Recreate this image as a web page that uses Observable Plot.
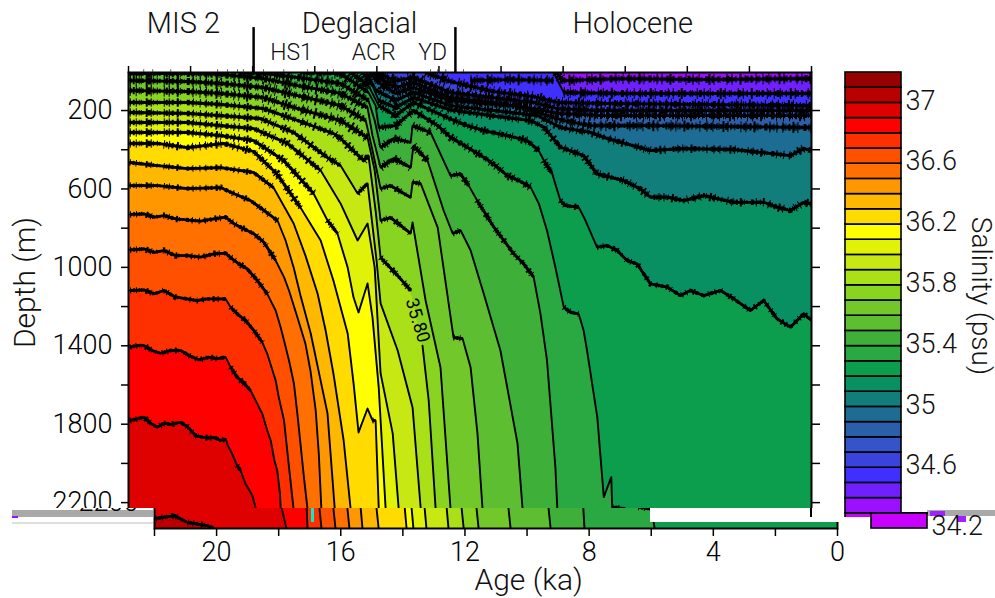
<!DOCTYPE html>
<html><head><meta charset="utf-8">
<script src="https://cdn.jsdelivr.net/npm/d3@7"></script>
<script src="https://cdn.jsdelivr.net/npm/@observablehq/plot@0.6"></script>
<style>
html,body{margin:0;background:#fff}
#fig{position:relative;width:995px;height:598px;overflow:hidden;font-family:Roboto,sans-serif;font-weight:300}
#fig svg{position:absolute;left:0;top:0;background:transparent;font-family:Roboto,sans-serif;font-weight:300}
.g{position:absolute}
</style></head><body><div id="fig"></div>
<script>
const age_344=[8.21,8.02,6.15,3.58,0], depth_344=[6,47,37,42,37];
const age_345=[8.31,7.98,6.15,3.58,0], depth_345=[6,108,113,113,113];
const age_346=[12.43,11.63,10.24,8.95,8.18,6.79,0], depth_346=[6,52,103,129,159,164,175];
const age_347=[14.04,13.40,12.82,11.63,8.95,8.18,6.79,0], depth_347=[6,47,32,108,159,190,200,200];
const age_348=[14.14,13.88,13.40,12.82,11.63,8.95,8.18,6.79,4.12,0], depth_348=[6,37,83,57,134,190,215,226,226,226];
const age_349=[14.20,13.94,13.40,12.82,11.63,9.47,8.73,7.98,7.12,5.18,2.51,0], depth_349=[6,57,113,83,149,175,215,251,277,277,282,287];
const age_350=[14.33,14.01,13.40,12.82,11.63,8.82,8.08,7.12,6.57,5.18,4.12,2.51,0.68,0.26,0], depth_350=[6,98,149,108,175,226,287,312,343,404,394,399,430,394,404];
const age_351=[14.46,14.14,13.94,13.40,12.82,11.63,10.34,9.05,8.62,8.09,7.34,6.91,6.48,6.05,5.51,5.19,4.65,4.11,3.47,2.50,1.54,1.11,0.68,0.25,0], depth_351=[6,73,149,185,134,197,226,251,285,387,430,523,540,557,600,642,642,659,634,668,668,693,710,668,676];
const age_352=[14.85,14.27,13.94,13.40,12.82,11.63,11.09,10.56,9.80,9.16,8.79,8.62,8.35,8.09,7.93,7.50,7.28,6.91,6.58,6.26,5.94,5.62,5.19,4.65,4.22,3.90,3.47,2.93,2.50,1.97,1.54,1.11,0.68,0.25,0], depth_352=[6,73,175,226,159,243,277,302,328,353,404,455,523,659,685,693,761,897,889,914,965,982,1084,1101,1144,1118,1144,1118,1161,1220,1169,1263,1305,1237,1271];
const age_353=[16.46,15.17,14.27,14.04,13.94,13.40,12.82,12.04,11.63,11.09,10.56,10.18,9.80,9.43,9.05,8.78,8.52,8.25,7.98,7.76,7.50,7.34,7.23,6.90,6.69,6.45,6.42,5.99,5.89], depth_353=[6,11,108,175,287,277,200,277,336,387,438,481,532,557,591,676,812,999,1203,1229,1237,1322,1424,1764,2172,2070,2223,2232,2332];
const age_354=[18.39,17.65,16.55,15.17,14.27,14.07,13.88,13.46,12.91,12.85,12.27,11.63,11.31,11.04,10.77,10.23,9.59,9.27,8.95,8.73,8.52,8.25,8.19,8.15], depth_354=[6,11,32,62,149,251,389,343,363,277,312,532,523,583,659,795,931,982,1050,1237,1475,2019,2223,2332];
const age_355=[21.96,20.10,19.03,17.65,16.55,15.17,14.30,14.14,13.88,13.46,12.91,12.82,12.37,11.85,11.56,11.30,10.98,10.56,10.02,9.47,9.31,9.24], depth_355=[11,11,16,37,73,113,185,328,491,445,491,379,455,710,827,812,914,1133,1424,1898,2225,2332];
const age_356=[21.96,20.10,19.03,17.65,16.55,15.17,14.36,14.14,13.88,13.56,12.91,12.85,12.59,12.04,11.53,11.24,10.98,10.76,10.60,10.53], depth_356=[47,52,62,83,124,175,251,404,598,583,644,567,572,797,1358,1363,1511,1847,2225,2332];
const age_357=[21.96,20.10,19.03,17.65,16.55,15.17,14.30,14.07,13.88,13.56,12.91,12.85,12.43,11.95,11.63,11.56], depth_357=[98,103,113,134,190,251,338,506,761,746,827,771,1169,1511,2225,2332];
const age_358=[21.96,20.10,19.03,17.65,16.55,15.40,15.17,14.43,14.27,14.04,13.88,13.33,12.91,12.72,12.53,12.33,12.11,12.04], depth_358=[159,159,169,190,251,317,343,455,430,710,950,1042,1118,NaN,1399,1679,2225,2332];
const age_359=[21.96,20.10,19.03,17.75,16.68,15.59,15.17,14.62,14.30,14.01,13.88,13.33,12.85,12.59,12.53], depth_359=[210,215,226,241,312,440,481,623,572,965,1184,1424,1715,2225,2332];
const age_360=[21.96,20.10,19.03,17.97,16.88,15.81,15.17,14.62,14.30,14.07,13.94,13.88,13.49,13.30,13.24], depth_360=[261,261,277,292,368,506,674,863,776,1001,1373,1541,1847,2225,2332];
const age_361=[21.96,20.10,19.03,17.97,17.00,16.04,15.59,15.27,14.94,14.75,14.59,14.30,14.14,13.94,13.72,13.66], depth_361=[312,312,328,353,455,623,761,827,1001,1154,1230,1082,1256,1613,2225,2332];
const age_362=[21.96,21.06,20.10,18.94,17.97,17.23,16.46,15.81,15.40,14.94,14.75,14.59,14.30,14.14,14.04,13.94,13.88], depth_362=[368,368,389,368,409,521,695,863,1067,1337,1592,1842,1720,1781,1781,2225,2332];
const age_363=[21.96,21.06,20.10,19.03,17.97,17.33,16.68,16.30,15.91,15.65,15.40,15.07,14.85,14.78], depth_363=[465,481,496,491,516,593,776,940,1133,1322,1541,1883,2225,2332];
const age_364=[21.96,21.06,20.10,19.03,18.62,18.07,17.20,16.94,16.68,16.46,16.13,15.59,15.36,15.30], depth_364=[583,583,598,593,623,659,761,863,1001,1143,1337,1745,2225,2332];
const age_365=[21.95,21.50,21.18,20.86,20.48,20.11,19.68,19.25,18.87,18.60,18.39,17.96,17.64,17.26,16.99,16.83,16.56,16.30,16.14,15.97,15.87,15.79,15.72], depth_365=[730,727,744,736,753,758,764,753,744,778,795,829,872,965,1050,1118,1254,1390,1526,1730,1951,2223,2332];
const age_366=[21.95,21.50,21.18,20.86,20.48,20.11,19.68,19.25,18.87,18.66,18.44,18.18,17.85,17.53,17.26,17.10,16.99,16.83,16.67,16.56,16.46,16.35,16.24,16.17], depth_366=[911,906,923,914,940,940,948,931,928,957,982,1007,1067,1135,1220,1305,1373,1475,1594,1747,1900,2070,2223,2332];
const age_367=[21.95,21.50,21.18,20.86,20.48,20.11,19.79,19.46,19.14,18.87,18.71,18.50,18.23,17.96,17.69,17.53,17.26,17.16,16.99,16.83,16.69,16.62], depth_367=[1118,1115,1135,1118,1152,1161,1169,1161,1161,1161,1203,1237,1271,1322,1382,1441,1577,1662,1781,2019,2223,2332];
const age_368=[21.95,21.72,21.50,21.24,20.97,20.64,20.32,20.05,19.73,19.41,19.14,18.87,18.71,18.50,18.28,18.07,17.85,17.69,17.53,17.42,17.30,17.21,17.12,17.10,17.07], depth_368=[1407,1399,1399,1424,1438,1424,1424,1450,1472,1458,1466,1458,1509,1560,1591,1628,1696,1747,1832,1883,1985,2036,2155,2223,2332];
const age_369=[21.95,21.72,21.50,21.29,21.07,20.86,20.64,20.32,20.11,19.84,19.62,19.46,19.20,19.03,18.87,18.80,18.66,18.50,18.39,18.23,18.01,17.91,17.75], depth_369=[1781,1773,1764,1795,1815,1795,1801,1790,1812,1858,1866,1869,1869,1883,1875,1909,1951,2011,2036,2104,2164,2223,2332];
const age_370=[21.96,21.38,20.93,20.29,20.10], depth_370=[2281,2266,2301,2317,2332];
// a dark wiggle seen across the blue wedge, not a coloured boundary
const age_wedge=[10.98,9.69,8.31], depth_wedge=[47,42,47];

const contourLevels=[34.4,34.5,34.6,34.7,34.8,34.9,35.0,35.1,35.2,35.3,35.4,35.5,35.6,35.7,35.8,35.9,36.0,36.1,36.2,36.3,36.4,36.5,36.6,36.7,36.8,36.9,37.0];
const contourAges=[age_344,age_345,age_346,age_347,age_348,age_349,age_350,age_351,age_352,age_353,age_354,age_355,age_356,age_357,age_358,age_359,age_360,age_361,age_362,age_363,age_364,age_365,age_366,age_367,age_368,age_369,age_370];
const contourDepths=[depth_344,depth_345,depth_346,depth_347,depth_348,depth_349,depth_350,depth_351,depth_352,depth_353,depth_354,depth_355,depth_356,depth_357,depth_358,depth_359,depth_360,depth_361,depth_362,depth_363,depth_364,depth_365,depth_366,depth_367,depth_368,depth_369,depth_370];

const barLows=d3.range(30).map(i=>+(34.2+i*0.1).toFixed(1));
const barColors=["#c800ff","#9a10ff","#7020ff","#4030ff","#3a44dc","#3454c8","#2c5faa","#1c6c94","#127e7c","#089062","#0c9e4c","#2aa842","#3eb03a","#5cbe30","#72c82a","#88d420","#aae018","#c8e814","#e0f208","#ffff00","#ffdb00","#ffb800","#ff9800","#ff7000","#ff5000","#ff3000","#ff0000","#df0000","#b80000","#960000"];
const barTicksUpper=[37,36.6,36.2,35.8,35.4,35,34.6];
const barTicksLower=[34.2];

const depthLabelled=[200,600,1000,1400,1800,2200];
const depthMinor=[400,800,1200,1600,2000];
const depthRight=[200,400,600,800,1000,1200,1400,1600,1800,2000,2200];
const ageLabelled=[20,16,12,8,4,0];
const ageMinor=[22,18,14,10,6,2];
const ageTop=[22,20,18,16,14,12,10,8,6,4,2,0];
const periodBounds=[17.97,11.47];
const topSpikes=[21.51,21.22,20.64,19.13,18.81,18.49,18.30,17.65,17.00,16.23,15.59,15.40,12.27,12.04,11.78,11.21];
const periodLabels=["MIS 2","Deglacial","Holocene"], periodAges=[20.23,14.56,5.76];
const eventLabels=["HS1","ACR","YD"], eventAges=[16.75,14.1,12.2];

const topD=6, botD=2332;
const colorOf=l=>barColors[barLows.indexOf(l)];

const allRows=[], gentle=[];
contourLevels.forEach((level,k)=>{
  const A=contourAges[k],D=contourDepths[k];
  A.forEach((a,i)=>allRows.push({age:a,depth:D[i],level}));
  let cur=null;
  for(let i=0;i+1<A.length;i++){
    const dy=Math.abs(D[i+1]-D[i])*0.196, dx=Math.abs(A[i+1]-A[i])*31.05;
    if(dy<1.6*dx && !isNaN(dy)){
      if(!cur){cur=[{age:A[i],depth:D[i]}];}
      cur.push({age:A[i+1],depth:D[i+1]});
    } else if(cur){gentle.push(cur);cur=null;}
  }
  if(cur)gentle.push(cur);
});
gentle.push(age_wedge.map((a,i)=>({age:a,depth:depth_wedge[i]})));
const runRows=gentle.map((r,i)=>{const m=d3.mean(r,p=>p.depth);return r.map(p=>({...p,run:i,m}));}).flat();

function contourMarks(){
  const fills=contourLevels.map((l,k)=>{
    const rows=contourAges[k].map((a,i)=>({age:a,depth:contourDepths[k][i]})).filter(r=>!isNaN(r.depth));
    rows.unshift({age:22,depth:rows[0].age>=21.9?rows[0].depth:topD});
    return Plot.areaY(rows,{x:"age",y1:"depth",y2:()=>botD,fill:colorOf(l),clip:"frame"});
  });
  const fuzz=[{lo:0,hi:250,w:11},{lo:250,hi:500,w:8.5},{lo:500,hi:1100,w:6.5},{lo:1100,hi:1e9,w:6}].flatMap(c=>{
    const rows=runRows.filter(r=>r.m>=c.lo&&r.m<c.hi);
    const common={x:"age",y:"depth",z:"run",stroke:"#000",strokeLinecap:"butt",clip:"frame"};
    return [
      Plot.line(rows,{...common,strokeWidth:c.w,strokeDasharray:"1 5 1 9 2 3 1 12 1 4 1 7 2 14 1 6"}),
      Plot.line(rows,{...common,strokeWidth:c.w*0.65,strokeDasharray:"1 2 2 4 1 1 1 6 3 2 1 3 1 8 2 1"}),
      Plot.line(rows,{...common,strokeWidth:c.w*0.42,strokeDasharray:"2 1 1 2 3 1 1 1 2 3"}),
      Plot.line(rows,{...common,strokeWidth:2.8,strokeLinejoin:"round"})
    ];
  });
  return [
    Plot.frame({fill:colorOf(34.3),stroke:null}),
    ...fills,
    Plot.line(allRows,{x:"age",y:"depth",z:"level",stroke:"#000",strokeWidth:1.9,clip:"frame"}),
    ...fuzz,
    Plot.frame({stroke:"#000",strokeWidth:2})
  ];
}
const plotBase={width:995,height:598,marginLeft:128,marginRight:184,marginTop:72,marginBottom:70,
  x:{domain:[22,0],range:[128,811]},y:{domain:[topD,botD],range:[72,528]}};
function upperPlot(){
  return Plot.plot({...plotBase,marks:[
    ...contourMarks(),
    Plot.text(["35.80"],{x:[12.69],y:[1271],text:d=>d,rotate:73,fontSize:18,fontWeight:400,fill:"#000"}),
    Plot.axisY(depthLabelled,{anchor:"left",tickSize:7,tickPadding:9,fontSize:27,label:null,strokeWidth:1.5,tickFormat:d=>String(d)}),
    Plot.axisY(depthMinor,{anchor:"left",tickSize:7,text:null,label:null,strokeWidth:1.5}),
    Plot.axisY(depthRight,{anchor:"right",tickSize:8,text:null,label:null,strokeWidth:1.5}),
    Plot.axisX(ageTop,{anchor:"top",tickSize:7,text:null,label:null,strokeWidth:1.5}),
    Plot.ruleX(topSpikes,{y1:topD,y2:-8,stroke:"#333",strokeWidth:0.8}),
    Plot.ruleX(periodBounds,{y1:topD,y2:-223,stroke:"#000",strokeWidth:2.5}),
    Plot.text(periodLabels,{x:periodAges,y:[-243,-243,-243],text:d=>d,fontSize:29,fill:"#111"}),
    Plot.text(eventLabels,{x:eventAges,y:[-96,-96,-96],text:d=>d,fontSize:23,fill:"#111"}),
    Plot.text(["Depth (m)"],{x:[22],y:[1077],dx:-103,text:d=>d,rotate:-90,fontSize:30,fill:"#111"})
  ]});
}
function lowerPlot(){
  return Plot.plot({...plotBase,marks:[
    ...contourMarks(),
    Plot.axisY([2200],{anchor:"left",tickSize:7,tickPadding:9,fontSize:27,label:null,strokeWidth:1.5,tickFormat:d=>String(d)}),
    Plot.axisX(ageLabelled,{anchor:"bottom",tickSize:8,tickPadding:5,fontSize:27,label:null,strokeWidth:1.5,tickFormat:d=>String(d)}),
    Plot.axisX(ageMinor,{anchor:"bottom",tickSize:8,text:null,label:null,strokeWidth:1.5}),
    Plot.text(["Age (ka)"],{x:[9.95],y:[2597],text:d=>d,fontSize:30,fill:"#111"})
  ]});
}
function barPlot(ticks,withTitle){
  const rows=barLows.map((l,i)=>({lo:l,hi:+(l+0.1).toFixed(1),c:barColors[i]}));
  return Plot.plot({
    width:995,height:598,marginLeft:845,marginRight:94,marginTop:72,marginBottom:70,
    x:{domain:[0,1],range:[845,901],axis:null},
    y:{domain:[34.2,37.2],range:[528,72],axis:null},
    marks:[
      Plot.rectY(rows,{x1:()=>0,x2:()=>1,y1:"lo",y2:"hi",fill:"c",stroke:"#000",strokeWidth:1.6}),
      Plot.text(ticks,{x:()=>1,y:d=>d,dx:4,dy:-2,text:d=>String(d),textAnchor:"start",fontSize:27,fill:"#111"}),
      withTitle?Plot.text(["Salinity (psu)"],{x:[1],y:[35.73],dx:79,text:d=>d,rotate:90,fontSize:28,fill:"#111"}):null
    ]
  });
}
const fig=document.getElementById("fig");
function box(l,t,w,h,c){const d=document.createElement("div");d.className="g";d.style.cssText=`left:${l}px;top:${t}px;width:${w}px;height:${h}px;background:${c}`;fig.appendChild(d);}
box(12,510,141,7,"#a9a9a9");
box(12,522,141,2,"#dedede");
box(12,516,6,1.5,"#9a10ff");
const low=lowerPlot();
low.style.clipPath="inset(508px 0 0 0)";
low.style.transform="translateX(26px)";
fig.appendChild(low);
box(650,508,190,14,"#fff");
box(311,508,3,14,"#00f0d0");
const up=upperPlot();
up.style.clipPath="inset(0 0 90px 0)";
fig.appendChild(up);
box(810,508,2,9,"#000");
box(864,508,7,9,"#a9a9a9");
box(927,510,68,6,"#a9a9a9");
box(930,511,15,5,"#a020ff");
box(957,516,9,6,"#a020ff");
const bar=barPlot(barTicksUpper,true);
bar.style.clipPath="inset(0 0 81px 0)";
fig.appendChild(bar);
const barLow=barPlot(barTicksLower,false);
barLow.style.clipPath="inset(512px 0 0 844px)";
barLow.style.transform="translateX(26px)";
fig.appendChild(barLow);
</script></body></html>
